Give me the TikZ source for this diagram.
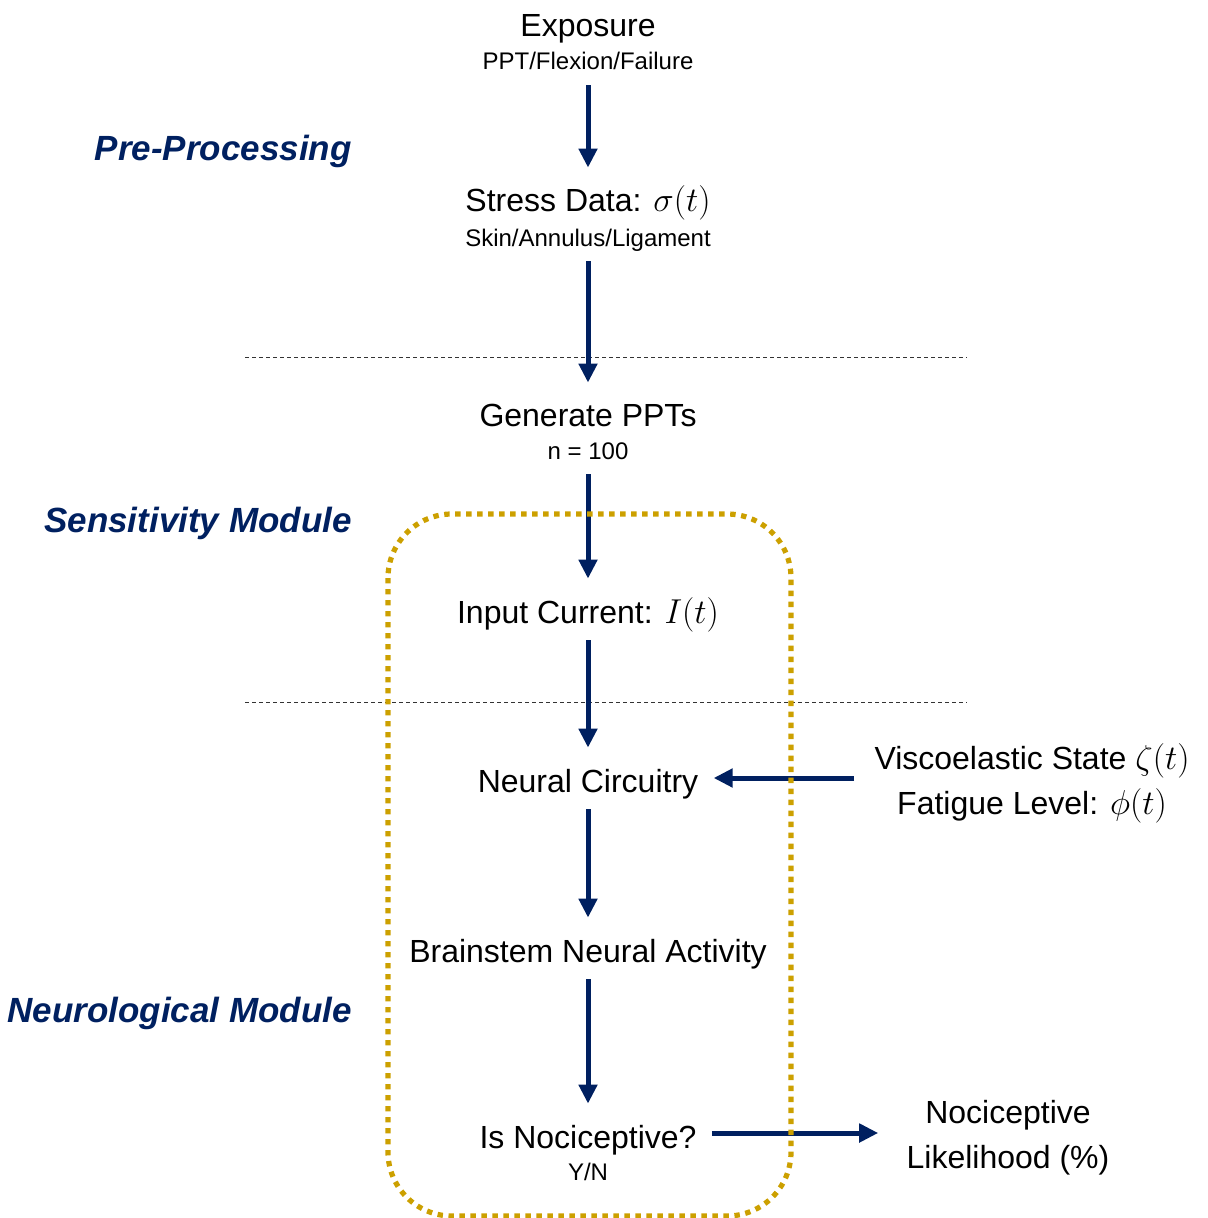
\documentclass[tikz,border=0pt]{standalone}
\usepackage{fontspec}
\setmainfont{Liberation Sans}
\usetikzlibrary{arrows.meta}

\definecolor{navy}{RGB}{0,32,96}
\definecolor{gold}{RGB}{204,160,0}

\tikzset{
    main/.style={inner sep=0pt, anchor=base, font=\fontsize{16}{22.5}\selectfont,
        text height=11.5pt, text depth=3.5pt},
    sub/.style={inner sep=0pt, anchor=base, font=\fontsize{12}{14}\selectfont,
        text height=8.6pt, text depth=2.5pt},
    side/.style={inner sep=0pt, align=center, font=\fontsize{16}{22.5}\selectfont},
    stage/.style={inner sep=0pt, anchor=base east, text=navy,
        font=\fontsize{17.5}{20}\selectfont\bfseries\itshape},
    flow/.style={draw=navy, line width=2.5pt, -{Triangle[length=9.5pt,width=9pt]},
        shorten <=5pt, shorten >=10.5pt},
}

\begin{document}
\begin{tikzpicture}[x=0.5pt, y=-0.5pt]
    \useasboundingbox (0,0) rectangle (1207,1218);

    % stages
    \node[stage] (pre)  at (352,161)  {Pre-Processing};
    \node[stage] (sens) at (352,532)  {Sensitivity Module};
    \node[stage] (neur) at (352,1022) {Neurological Module};

    % pipeline
    \node[main] (expo)    at (588,37)   {Exposure};
    \node[sub]  (expoSub) at (588,70)   {PPT/Flexion/Failure};
    \node[main] (stress)  at (588,212)  {Stress Data: $\sigma(t)$};
    \node[sub]  (tissue)  at (588,247)  {Skin/Annulus/Ligament};
    \node[main] (gen)     at (588,427)  {Generate PPTs};
    \node[sub]  (nSub)    at (588,459)  {n = 100};
    \node[main] (input)   at (588,623)  {Input Current: $I(t)$};
    \node[main] (neural)  at (588,792)  {Neural Circuitry};
    \node[main] (brain)   at (588,962)  {Brainstem Neural Activity};
    \node[main] (isNoc)   at (588,1148) {Is Nociceptive?};
    \node[sub]  (yn)      at (588,1180) {Y/N};

    \node[side] (factors) at (1032,783)  {Viscoelastic State $\zeta(t)$\\Fatigue Level: $\phi(t)$};
    \node[side] (likely)  at (1008,1138) {Nociceptive\\Likelihood (\%)};

    % separators
    \draw[line width=0.5pt, dash pattern=on 2pt off 1.5pt, black!80] (245,358) -- (967,358);
    \draw[line width=0.5pt, dash pattern=on 2pt off 1.5pt, black!80] (245,702) -- (967,702);

    \draw[flow] (expoSub.south) -- (stress.north);
    \draw[flow, shorten <=4.5pt] (tissue.south) -- (gen.north);
    \draw[flow] (nSub.south) -- (input.north);
    \draw[flow] (input.south) -- (neural.north);
    \draw[flow] (neural.south) -- (brain.north);
    \draw[flow] (brain.south) -- (isNoc.north);

    \draw[flow, shorten <=10pt, shorten >=7.5pt]
        ([yshift=2.5pt]factors.west) -- ([yshift=2.5pt]factors.west -| neural.east);
    \draw[flow, shorten <=7.5pt, shorten >=14pt]
        ([yshift=3.5pt]isNoc.east) -- ([yshift=3.5pt]isNoc.east -| likely.west);

    % sensitivity / neurological block
    \draw[gold, line width=2.6pt, dash pattern=on 2.7pt off 2.8pt, rounded corners=32pt]
        (388,514) rectangle (791,1216);
\end{tikzpicture}
\end{document}
